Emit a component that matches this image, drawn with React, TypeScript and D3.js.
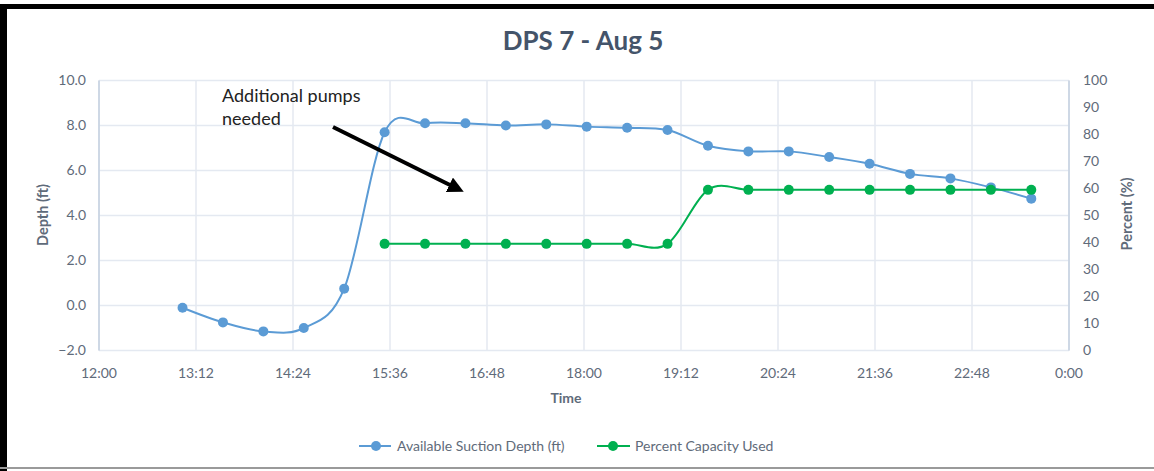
import React from "react";
import * as d3 from "d3";

const times = [
  "13:02", "13:32", "14:02", "14:32", "15:02", "15:32", "16:02", "16:32",
  "17:02", "17:32", "18:02", "18:32", "19:02", "19:32", "20:02", "20:32",
  "21:02", "21:32", "22:02", "22:32", "23:02", "23:32",
];

// Available Suction Depth (ft)
const depth = [
  -0.1, -0.75, -1.15, -1.0, 0.75, 7.7, 8.1, 8.1, 8.0, 8.05, 7.95, 7.9,
  7.8, 7.1, 6.85, 6.85, 6.6, 6.3, 5.85, 5.65, 5.25, 4.75,
];

// Percent Capacity Used (null = not recorded)
const percent = [
  null, null, null, null, null, 39.5, 39.5, 39.5, 39.5, 39.5, 39.5, 39.5,
  39.5, 59.5, 59.5, 59.5, 59.5, 59.5, 59.5, 59.5, 59.5, 59.5,
];

const xTickLabels = ["12:00", "13:12", "14:24", "15:36", "16:48", "18:00", "19:12", "20:24", "21:36", "22:48", "0:00"];
const depthTicks = [-2, 0, 2, 4, 6, 8, 10];
const percentTicks = [0, 10, 20, 30, 40, 50, 60, 70, 80, 90, 100];

const W = 1154;
const H = 471;
const FONT = "Lato, 'Open Sans', sans-serif";
const BLUE = "#5B9BD5";
const GREEN = "#00B050";
const GRID = "#E4E9F1";
const TICK = "#5F6B7A";

const toMin = (t: string) => {
  const [h, m] = t.split(":").map(Number);
  return h * 60 + m;
};

export default function App() {
  const x = d3.scaleLinear().domain([720, 1440]).range([99, 1069]);
  const yL = d3.scaleLinear().domain([-2, 10]).range([350.5, 80.5]);
  const yR = d3.scaleLinear().domain([0, 100]).range([350.5, 80.5]);

  const depthPts = times.map((t, i) => ({ t: toMin(t), v: depth[i] }));
  const pctPts = times
    .map((t, i) => ({ t: toMin(t), v: percent[i] }))
    .filter((d) => d.v !== null) as { t: number; v: number }[];

  const depthLine = d3
    .line<{ t: number; v: number }>()
    .x((d) => x(d.t))
    .y((d) => yL(d.v))
    .curve(d3.curveCardinal)(depthPts);
  const pctLine = d3
    .line<{ t: number; v: number }>()
    .x((d) => x(d.t))
    .y((d) => yR(d.v))
    .curve(d3.curveCardinal)(pctPts);

  const xTicks = xTickLabels.map((_, i) => 720 + i * 72);

  return (
    <div style={{ position: "fixed", left: 0, top: 0 }}>
      <svg width={W} height={H} style={{ display: "block", background: "#fff" }}>
        <defs>
          <marker id="arrow" viewBox="0 0 10 10" refX="6" refY="5" markerWidth="4" markerHeight="4" orient="auto">
            <path d="M0,0 L10,5 L0,10 z" fill="#000" />
          </marker>
        </defs>

        {/* frame */}
        <rect x={0} y={4} width={W} height={5} fill="#000" />
        <rect x={0} y={4} width={7} height={H - 4} fill="#000" />
        <rect x={0} y={467} width={W} height={2} fill="#9a9a9a" />

        <text x={583} y={50} textAnchor="middle" fontFamily={FONT} fontWeight={700} fontSize={26} fill="#44546A">
          DPS 7 - Aug 5
        </text>

        {/* gridlines */}
        {depthTicks.map((d) => (
          <line key={"h" + d} x1={99} x2={1069} y1={yL(d)} y2={yL(d)} stroke={GRID} strokeWidth={1.5} />
        ))}
        {xTicks.map((t) => (
          <line key={"v" + t} x1={x(t)} x2={x(t)} y1={yL(10)} y2={yL(-2)} stroke={GRID} strokeWidth={1.5} />
        ))}
        <line x1={99} x2={99} y1={yL(10)} y2={yL(-2)} stroke="#C5D0E0" strokeWidth={1.5} />
        <line x1={1069} x2={1069} y1={yL(10)} y2={yL(-2)} stroke="#C5D0E0" strokeWidth={1.5} />

        {/* left axis */}
        {depthTicks.map((d) => (
          <text key={"l" + d} x={86} y={yL(d)} dy="0.35em" textAnchor="end" fontFamily={FONT} fontSize={14} fill={TICK}>
            {d3.format(".1f")(d)}
          </text>
        ))}
        <text transform={`translate(43,215) rotate(-90)`} textAnchor="middle" dy="0.35em" fontFamily={FONT} fontWeight={700} fontSize={14.5} fill={TICK}>
          Depth (ft)
        </text>

        {/* right axis */}
        {percentTicks.map((d) => (
          <text key={"r" + d} x={1083} y={yR(d)} dy="0.35em" textAnchor="start" fontFamily={FONT} fontSize={14} fill={TICK}>
            {d}
          </text>
        ))}
        <text transform={`translate(1127,214) rotate(-90)`} textAnchor="middle" dy="0.35em" fontFamily={FONT} fontWeight={700} fontSize={14.5} fill={TICK}>
          Percent (%)
        </text>

        {/* x axis */}
        {xTicks.map((t, i) => (
          <text key={"x" + t} x={x(t)} y={373} dy="0.35em" textAnchor="middle" fontFamily={FONT} fontSize={14} fill={TICK}>
            {xTickLabels[i]}
          </text>
        ))}
        <text x={566} y={398} dy="0.35em" textAnchor="middle" fontFamily={FONT} fontWeight={700} fontSize={14} fill={TICK}>
          Time
        </text>

        {/* series */}
        <path d={depthLine ?? ""} fill="none" stroke={BLUE} strokeWidth={2} />
        {depthPts.map((d) => (
          <circle key={"d" + d.t} cx={x(d.t)} cy={yL(d.v)} r={5} fill={BLUE} />
        ))}
        <path d={pctLine ?? ""} fill="none" stroke={GREEN} strokeWidth={2} />
        {pctPts.map((d) => (
          <circle key={"p" + d.t} cx={x(d.t)} cy={yR(d.v)} r={5} fill={GREEN} />
        ))}

        {/* annotation */}
        <text x={222} y={102} fontFamily={FONT} fontSize={18} fill="#222">
          Additional pumps
        </text>
        <text x={222} y={125} fontFamily={FONT} fontSize={18} fill="#222">
          needed
        </text>
        <line x1={333} y1={127} x2={458} y2={189} stroke="#000" strokeWidth={4} markerEnd="url(#arrow)" />

        {/* legend */}
        <line x1={359} x2={391} y1={446} y2={446} stroke={BLUE} strokeWidth={2} />
        <circle cx={376} cy={446} r={5} fill={BLUE} />
        <text x={397} y={446} dy="0.35em" fontFamily={FONT} fontSize={14} fill={TICK}>
          Available Suction Depth (ft)
        </text>
        <line x1={597} x2={630} y1={446} y2={446} stroke={GREEN} strokeWidth={2} />
        <circle cx={613} cy={446} r={5} fill={GREEN} />
        <text x={635} y={446} dy="0.35em" fontFamily={FONT} fontSize={14} fill={TICK}>
          Percent Capacity Used
        </text>
      </svg>
    </div>
  );
}
